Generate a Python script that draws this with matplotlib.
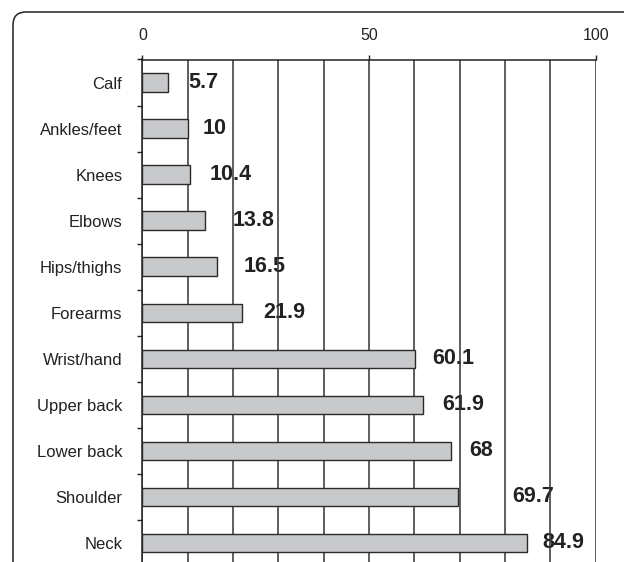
import matplotlib
matplotlib.use("Agg")
import matplotlib.pyplot as plt
from matplotlib.patches import FancyBboxPatch
import numpy as np

categories = ["Calf", "Ankles/feet", "Knees", "Elbows", "Hips/thighs", "Forearms",
              "Wrist/hand", "Upper back", "Lower back", "Shoulder", "Neck"]
values = [5.7, 10, 10.4, 13.8, 16.5, 21.9, 60.1, 61.9, 68, 69.7, 84.9]
value_labels = ["5.7", "10", "10.4", "13.8", "16.5", "21.9", "60.1", "61.9", "68", "69.7", "84.9"]
x_ticks = [0, 50, 100]

# horizontal offset of each value label from its bar end (data units)
label_offsets = [4.5, 3.3, 4.4, 6.1, 5.9, 4.8, 3.9, 4.2, 4.2, 11.8, 3.3]

plt.rcParams['font.family'] = ['Liberation Sans', 'DejaVu Sans']

W, H = 624, 562
fig = plt.figure(figsize=(W / 100, H / 100), dpi=100)

# rounded border
border = FancyBboxPatch((13 / 100, -0.5), (W + 100) / 100, (H - 12) / 100 + 0.5,
                        boxstyle="round,pad=0,rounding_size=0.13",
                        transform=fig.dpi_scale_trans, fill=False,
                        edgecolor="#222222", linewidth=1.1, clip_on=False)
fig.patches.append(border)

ax = fig.add_axes([142.4 / W, 1 - 566 / H, 453.3 / W, (566 - 59.5) / H])
ax.patch.set_alpha(0)

y = np.arange(len(categories))
ax.barh(y, values, height=0.4, color="#c8c9cb", edgecolor="#2a2a2a", linewidth=1.0, zorder=3)

for yi, v, lab, off in zip(y, values, value_labels, label_offsets):
    ax.text(v + off, yi, lab, ha="left", va="center", fontsize=15.5, fontweight="bold",
            color="#222222", zorder=1)

ax.set_xlim(0, 100)
ax.set_ylim(len(categories) - 0.5, -0.5)

# vertical grid lines every 10
for gx in range(0, 101, 10):
    ax.axvline(gx, color="#333333", linewidth=1.1, zorder=2)

ax.xaxis.tick_top()
ax.set_xticks(x_ticks)
ax.set_xticklabels([str(t) for t in x_ticks])
ax.tick_params(axis="x", direction="out", length=3.8, width=1.0, pad=8,
               labelsize=11.5, colors="#222222")

ax.set_yticks(y)
ax.set_yticklabels(categories)
ax.tick_params(axis="y", length=0, pad=14.5, labelsize=12, colors="#222222")
ax.set_yticks(np.arange(-0.5, len(categories) + 0.5, 1), minor=True)
ax.tick_params(axis="y", which="minor", direction="out", length=3.5, width=1.0, color="#222222")

for s in ["right", "bottom"]:
    ax.spines[s].set_visible(False)
ax.spines["top"].set_linewidth(1.1)
ax.spines["top"].set_color("#222222")
ax.spines["left"].set_linewidth(1.1)
ax.spines["left"].set_color("#222222")

fig.savefig("out.png", dpi=100)
